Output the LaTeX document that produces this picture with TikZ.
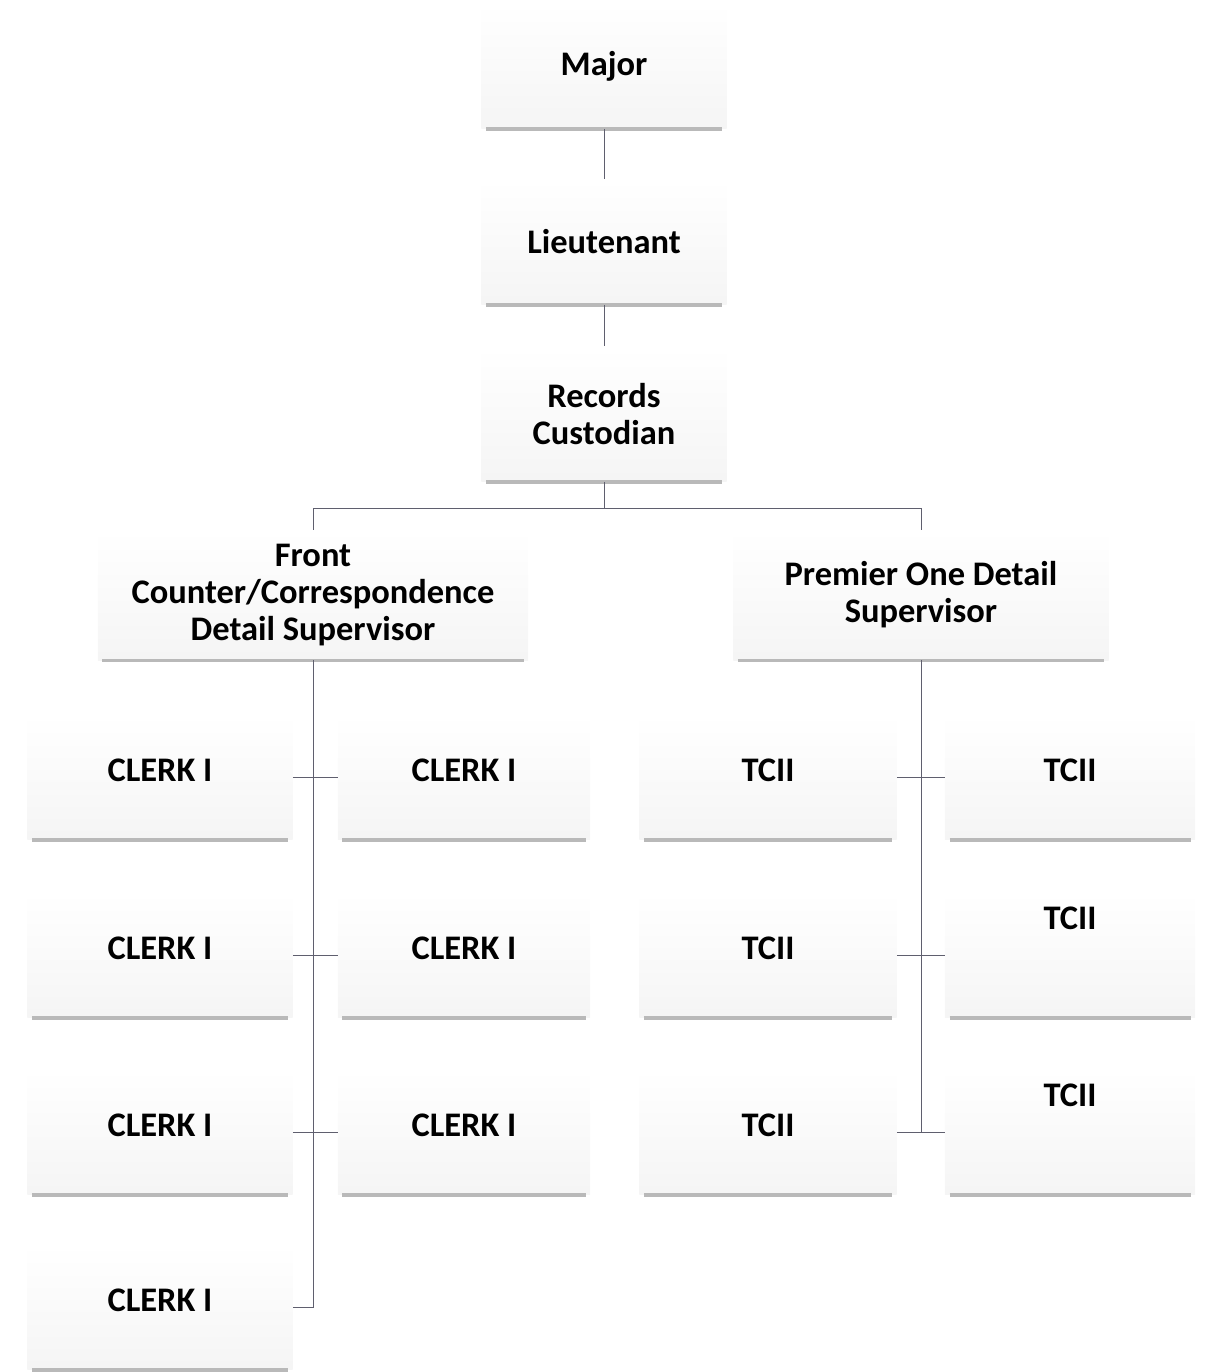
\documentclass[tikz,border=0pt]{standalone}
\usepackage{fontspec}
\setmainfont{Carlito}
\definecolor{linegray}{RGB}{95,95,110}
\tikzset{
  box/.style={rectangle, top color=white, bottom color=gray!8, draw=none,
    minimum width=#1, minimum height=3.125cm, inner sep=2pt, align=center,
    font=\fontsize{24.5}{26.3}\selectfont\bfseries},
  box/.default=6.125cm,
  rbox/.style={box=#1, text depth=0.35cm},
  tbox/.style={box=#1, text depth=1.85cm},
  bottomline/.style={gray!55, line width=2.5pt, shorten >=0.12cm, shorten <=0.12cm},
  link/.style={linegray, line width=0.7pt},
}
\begin{document}
\begin{tikzpicture}[x=0.025cm,y=-0.025cm]
  \useasboundingbox (0,0) rectangle (1205,1372);

  % top of the chart
  \node[box] (major) at (604,66) {Major};
  \node[box] (lieut) at (604,242) {Lieutenant};
  \node[box, minimum height=3.375cm] (records) at (604,414) {Records\\Custodian};
  \node[box=10.75cm, minimum height=3.25cm] (front) at (313,595) {Front\\Counter/Correspondence\\Detail Supervisor};
  \node[box=9.375cm, minimum height=3.25cm] (premier) at (921,595) {Premier One Detail\\Supervisor};

  % clerks
  \foreach \r/\y in {1/777,2/955,3/1132,4/1307} \node[rbox=6.625cm] (c\r1) at (160,\y) {CLERK I};
  \foreach \r/\y in {1/777,2/955,3/1132} \node[rbox=6.3cm] (c\r2) at (464,\y) {CLERK I};

  % TCII
  \foreach \r/\y in {1/777,2/955,3/1132} \node[rbox=6.425cm] (t\r1) at (768,\y) {TCII};
  \node[rbox=6.25cm] (t12) at (1070,777) {TCII};
  \node[tbox=6.25cm] (t22) at (1070,955) {TCII};
  \node[tbox=6.25cm] (t32) at (1070,1132) {TCII};

  % bottom edges
  \foreach \n in {major,lieut,records,front,premier,c11,c21,c31,c41,c12,c22,c32,t11,t21,t31,t12,t22,t32}
    \draw[bottomline] (\n.south west) -- (\n.south east);

  % connectors
  \draw[link] (major) -- (lieut);
  \draw[link] (lieut) -- (records);
  \draw[link] (records.south) -- ++(0,27) coordinate (split);
  \draw[link] (front.north) |- (split) -| (premier.north);

  \draw[link] (front.south) -- (front.south |- c41.east) -- (c41.east);
  \foreach \r in {1,2,3} \draw[link] (c\r1.east) -- (c\r2.west);

  \draw[link] (premier.south) -- (premier.south |- t31.east);
  \foreach \r in {1,2,3} \draw[link] (t\r1.east) -- (t\r2.west);
\end{tikzpicture}
\end{document}
